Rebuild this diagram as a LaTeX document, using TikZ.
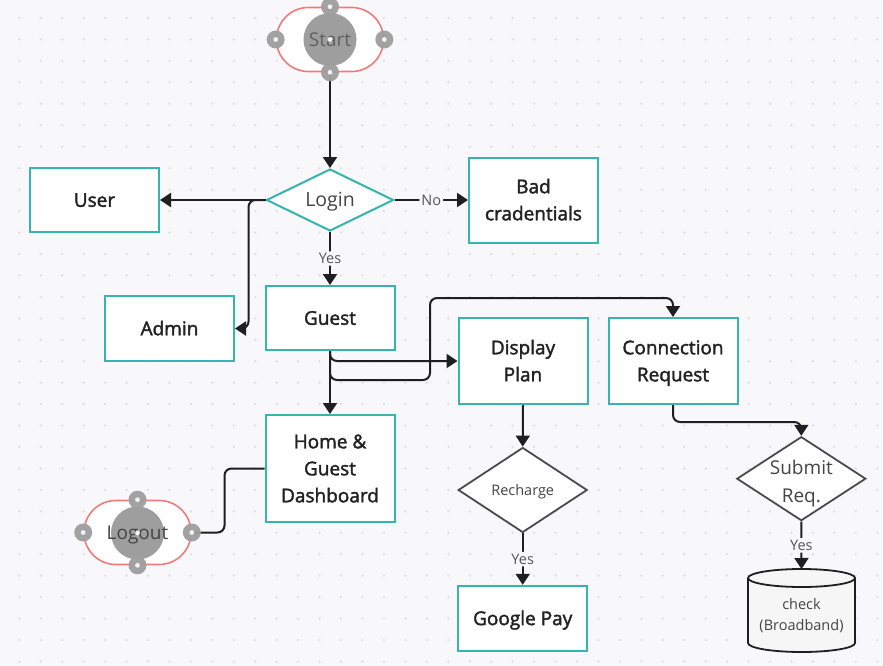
\documentclass[tikz,border=0pt]{standalone}
\usepackage{fontspec}
\setmainfont{Open Sans}
\newfontfamily\boxfont{Open Sans}[FakeBold=2]
\usetikzlibrary{shapes.geometric,arrows.meta}
\definecolor{bg}{HTML}{F8F8FA}
\definecolor{dotc}{HTML}{DEDEE4}
\definecolor{tealb}{HTML}{36B4AF}
\definecolor{pillred}{HTML}{F07B7B}
\definecolor{handlec}{HTML}{9E9E9E}
\definecolor{txt}{HTML}{222222}
\definecolor{txtg}{HTML}{444444}
\definecolor{lblc}{HTML}{555555}
\definecolor{diamg}{HTML}{4A4A4A}
\definecolor{cylfill}{HTML}{F6F6F7}
\newcommand{\bigstr}{\rule[-6pt]{0pt}{25.6pt}}
\newcommand{\smallstr}{\rule[-4.6pt]{0pt}{19.2pt}}
\begin{document}
\begin{tikzpicture}[x=1pt,y=-1pt,
  box/.style={draw=tealb,line width=2pt,fill=white,minimum width=129pt,inner sep=0pt,align=center,text=txt,font=\boxfont\fontsize{19}{27}\selectfont,
    execute at begin node=\bigstr,execute at end node=\bigstr},
  diam/.style={diamond,fill=white,inner sep=0pt,line width=1.8pt},
  dtext/.style={align=center,text=txtg,inner sep=0pt},
  conn/.style={line width=2pt,draw=black!88,rounded corners=7pt},
  arr/.style={conn,-{Triangle[length=11pt,width=14pt]}},
  lbl/.style={fill=bg,inner sep=2pt,text=lblc,font=\fontsize{14.5}{16}\selectfont},
  pill/.style={draw=pillred,line width=1.6pt,fill=white,rounded corners=31.9pt,minimum width=107pt,minimum height=64pt,inner sep=0pt},
  handle/.style={fill=handlec,fill opacity=0.95},
]
\useasboundingbox (0,0) rectangle (883,666);
\fill[bg] (0,0) rectangle (883,666);
\foreach \i in {0,...,40}{\foreach \j in {0,...,30}{\fill[dotc] ({19.3+21.45*\i},{18+21.45*\j}) circle (1.3);}}

% start / logout pills
\node[pill] (start) at (330,39.5) {};
\fill[handlec] (start.center) circle (26.5);
\node[text=txtg!85,font=\fontsize{19}{22}\selectfont,inner sep=0pt] (starttxt) at (start.center) {\bigstr Start};

\node[pill] (logout) at (137.5,532.5) {};
\fill[handlec] (137.5,533) circle (26.5);
\node[text=txtg,font=\fontsize{19}{22}\selectfont,inner sep=0pt] (logouttxt) at (logout.center) {\bigstr Logout};

% decisions
\node[diam,draw=tealb,line width=2pt,minimum width=127pt,minimum height=62pt] (login) at (330,200) {};
\node[dtext,font=\fontsize{19.5}{22}\selectfont] (logintxt) at (login.center) {\bigstr Login};

\node[diam,draw=diamg,minimum width=129pt,minimum height=85pt] (recharge) at (522.7,490) {};
\node[dtext,font=\fontsize{14.5}{17}\selectfont] (rechargetxt) at (recharge.center) {\smallstr Recharge};

\node[diam,draw=diamg,minimum width=129pt,minimum height=84pt] (submit) at (801.3,478.7) {};
\node[dtext,font=\fontsize{19}{28}\selectfont] (submittxt) at (801.3,482) {\bigstr Submit\\Req.\bigstr};

% boxes
\node[box,minimum height=64pt] (user) at (94.5,200) {User};
\node[box,minimum height=65pt] (admin) at (169.5,328.5) {Admin};
\node[box,minimum height=85pt] (bad) at (533.5,200) {\bigstr Bad\\cradentials};
\node[box,minimum height=64pt] (guest) at (330,318) {Guest};
\node[box,minimum height=107pt] (home) at (330,468.5) {\bigstr Home \&\\Guest\\Dashboard};
\node[box,minimum height=86pt] (display) at (523,361) {\bigstr Display\\Plan};
\node[box,minimum height=86pt] (conn) at (673,361) {\bigstr Connection\\Request};
\node[box,minimum height=65pt] (gpay) at (522.7,618.3) {Google Pay};

% cylinder
\filldraw[draw=black!88,fill=cylfill,line width=1.8pt]
  (748,578) -- (748,643) arc[start angle=180,end angle=0,x radius=53.5,y radius=9]
  -- (855,578) arc[start angle=0,end angle=-180,x radius=53.5,y radius=9] -- cycle;
\draw[black!88,line width=1.8pt] (748,578) arc[start angle=180,end angle=0,x radius=53.5,y radius=9];
\coordinate (cyltop) at (801.5,569);
\node[align=center,text=txtg,font=\fontsize{14.5}{19}\selectfont,inner sep=0pt] (cyl) at (801.5,615) {\smallstr check\\(Broadband)\smallstr};

% connectors
\draw[arr] (start.south) -- (login.north);
\draw[arr] (login.west) -- (user.east);
\draw[arr] (login.west) -- ++(-17,0) |- (admin.east);
\draw[arr] (login.east) -- node[lbl] {No} (bad.west);
\draw[arr] (login.south) -- node[lbl] {Yes} (guest.north);
\draw[arr] (guest.south) -- (home.north);
\draw[arr] (guest.south) |- (display.west);
\draw[arr] (guest.south) -- ++(0,29) -| ++(100,-82) -| (conn.north);
\draw[conn] (home.west) -- ++(-40,0) |- (logout.east);
\draw[arr] (display.south) -- (recharge.north);
\draw[arr] (recharge.south) -- node[lbl] {Yes} (gpay.north);
\draw[arr] (conn.south) -- ++(0,17) -| (submit.north);
\draw[arr] (submit.south) -- node[lbl] {Yes} (cyltop);

% handles
\foreach \p in {north,south,east,west}{
  \fill[handle] (start.\p) circle (9);
  \fill[white!90!gray] (start.\p) circle (2.4);
  \fill[handle] (logout.\p) circle (9);
  \fill[white!90!gray] (logout.\p) circle (2.4);
}
\fill[white!90!gray] (start.center) circle (2.4);
\fill[white!90!gray] (137.5,533) circle (2.4);
\end{tikzpicture}
\end{document}
